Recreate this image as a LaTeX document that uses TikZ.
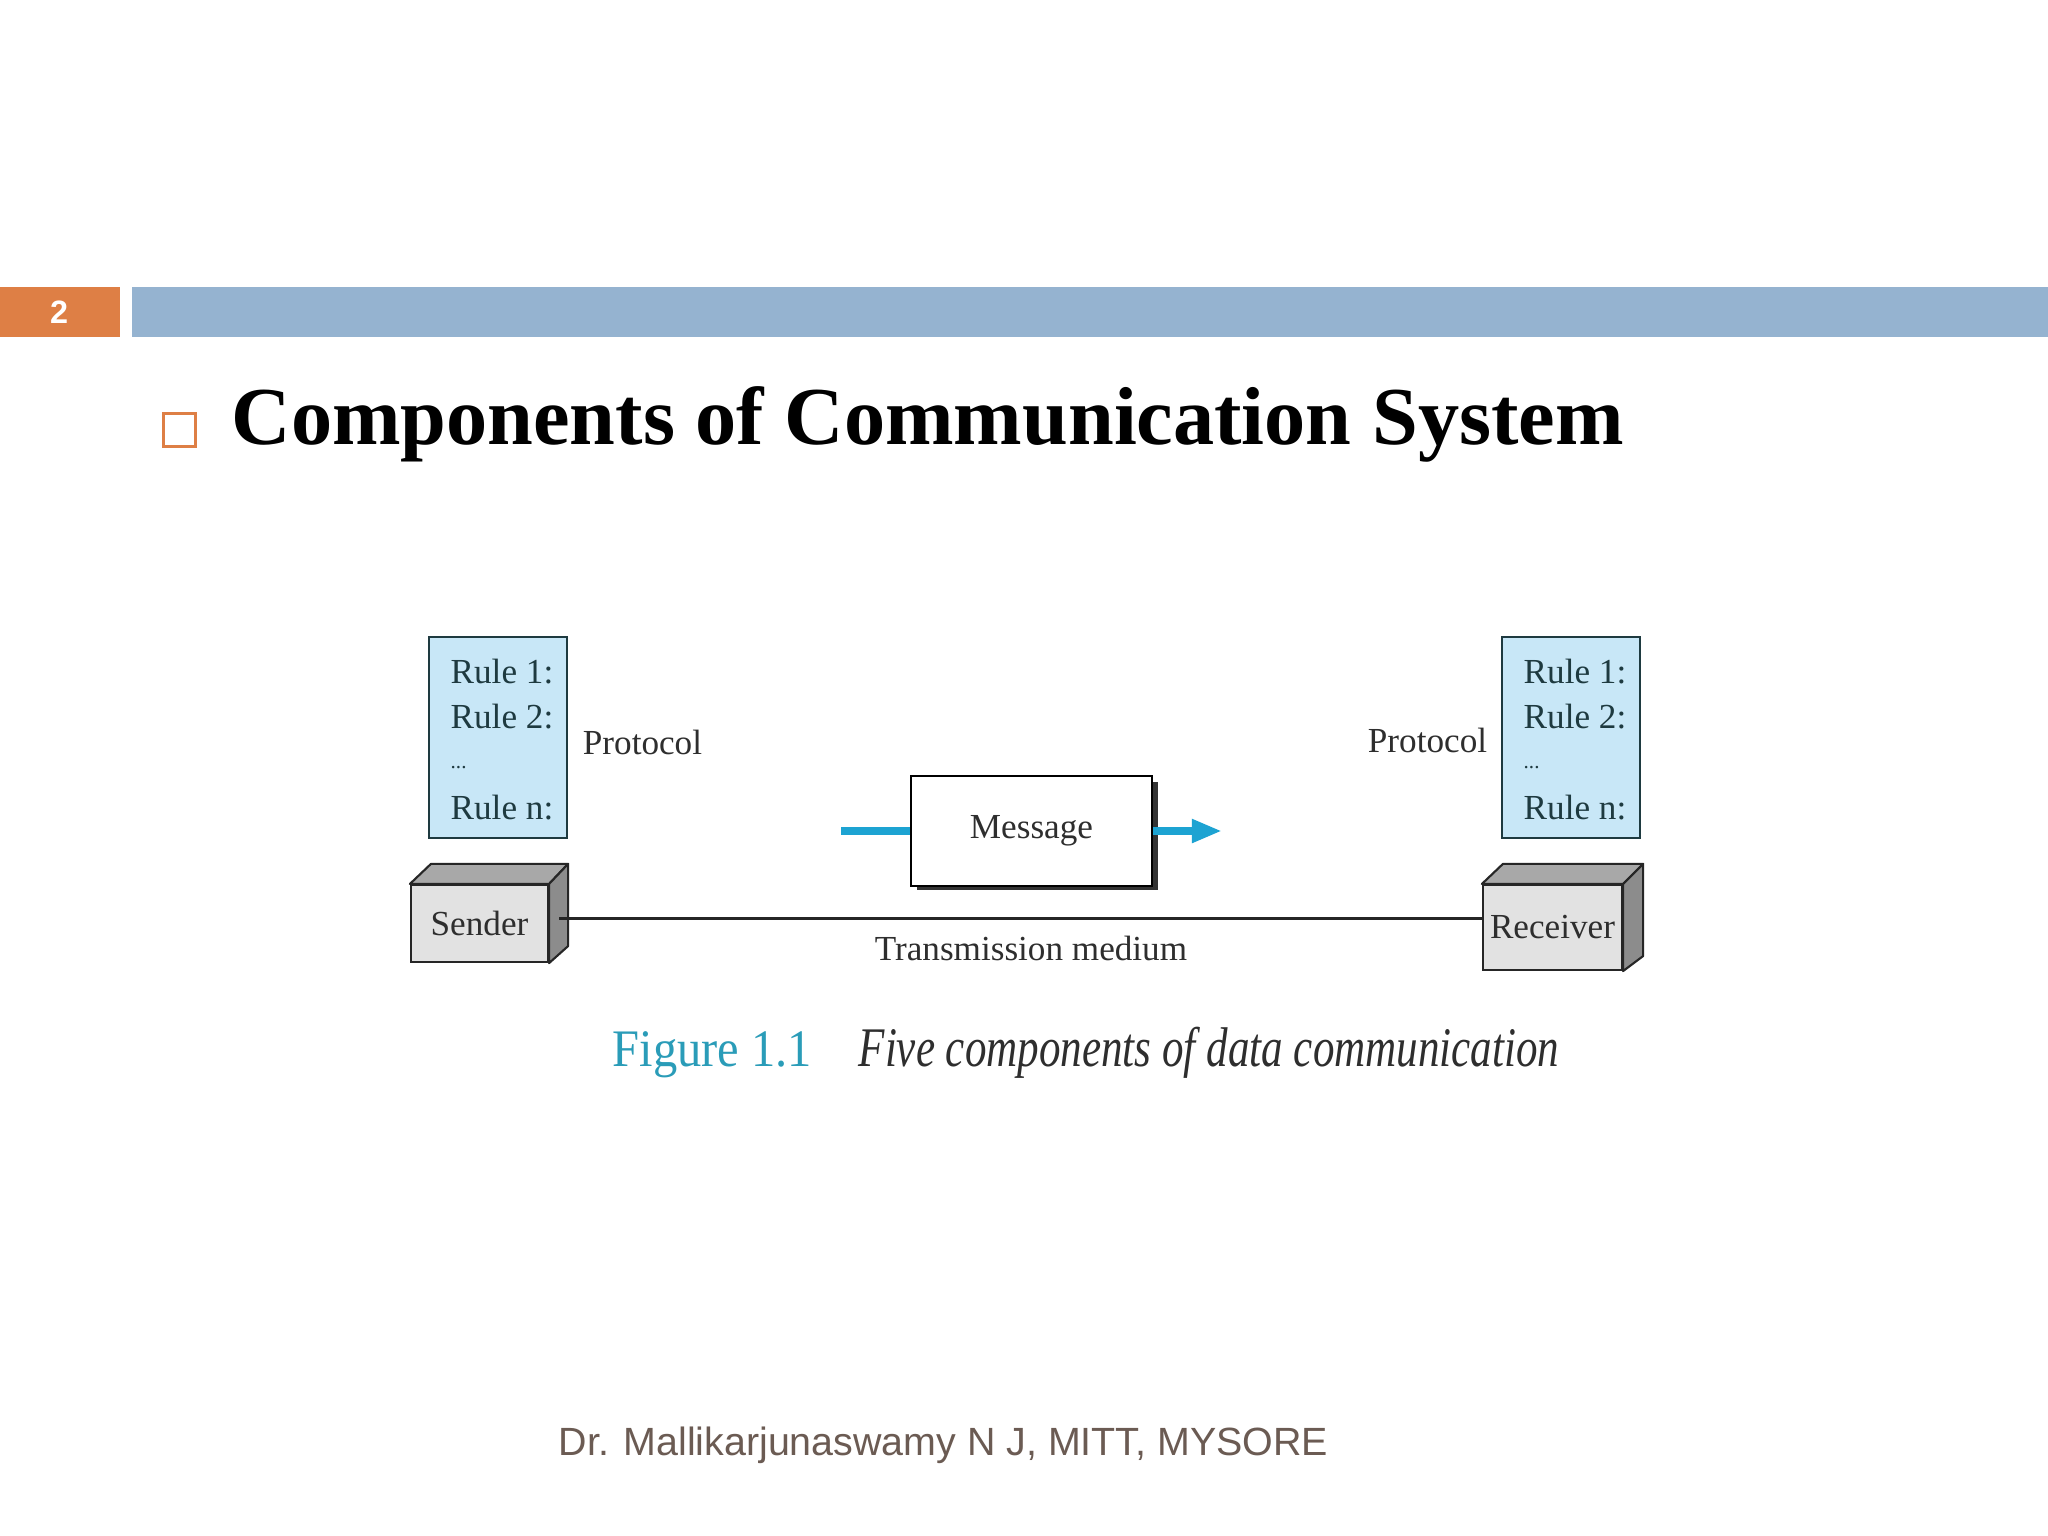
\documentclass[tikz,border=0pt]{standalone}
\usepackage{fontspec}
\setmainfont{Liberation Serif}
\newfontfamily\arialf{Liberation Sans}
\usetikzlibrary{arrows.meta}
\definecolor{barblue}{HTML}{95B3D0}
\definecolor{barorange}{HTML}{DE7F45}
\definecolor{protofill}{HTML}{C8E7F7}
\definecolor{protoedge}{HTML}{1E3A40}
\definecolor{msgblue}{HTML}{1DA3D2}
\definecolor{figteal}{HTML}{2A9CB8}
\definecolor{footgray}{HTML}{6B5B53}
\definecolor{txtgray}{HTML}{2E2E2E}
\definecolor{boxfront}{HTML}{E2E2E2}
\definecolor{boxtop}{HTML}{A8A8A8}
\definecolor{boxside}{HTML}{8C8C8C}
\begin{document}
\begin{tikzpicture}[x=0.01cm,y=-0.01cm,
  dtext/.style={font=\fontsize{10}{12}\selectfont, text=txtgray, inner sep=0pt},
  ruletext/.style={dtext, text=protoedge, anchor=west},
  protobox/.style={draw=protoedge, line width=0.8pt, fill=protofill, minimum width=1.38cm, minimum height=2.01cm, inner sep=0pt},
  devfront/.style={draw=black!85, line width=0.6pt, fill=boxfront, inner sep=0pt, font=\fontsize{10}{12}\selectfont, text=txtgray},
  devtop/.style={draw=black!85, line width=0.6pt, fill=boxtop, line join=round},
  devside/.style={draw=black!85, line width=0.6pt, fill=boxside, line join=round},
  msgbox/.style={draw=black, line width=0.6pt, fill=white, minimum width=2.41cm, minimum height=1.10cm, inner sep=0pt, font=\fontsize{10}{12}\selectfont, text=txtgray},
  msgarrow/.style={draw=msgblue, line width=2.2pt},
  medium/.style={draw=black!85, line width=0.6pt}
]
\useasboundingbox[fill=white] (0,0) rectangle (2048,1536);

% header bars
\fill[barorange] (0,287) rectangle (120,337);
\fill[barblue] (132,287) rectangle (2048,337);
\node[font=\arialf\bfseries\fontsize{9.2}{11}\selectfont, text=white, inner sep=0pt] (num) at (59,312) {2};

% title
\draw[barorange, line width=0.85pt] (163.5,413.5) rectangle (195.5,446.5);
\node[anchor=base west, inner sep=0pt, font=\bfseries\fontsize{23.4}{28}\selectfont] (title) at (231,444) {Components of Communication System};

% left protocol
\node[protobox] (lp) at (498,737.5) {};
\node[ruletext] (lr1) at (450,672) {Rule 1:};
\node[ruletext] (lr2) at (450,717) {Rule 2:};
\node[ruletext, font=\fontsize{6}{7}\selectfont] (lr3) at (450,768) {...};
\node[ruletext] (lrn) at (450,808) {Rule n:};
\node[dtext] (lprot) at (642.5,742) {Protocol};

% right protocol
\node[protobox] (rp) at (1571,737.5) {};
\node[ruletext] (rr1) at (1523,672) {Rule 1:};
\node[ruletext] (rr2) at (1523,717) {Rule 2:};
\node[ruletext, font=\fontsize{6}{7}\selectfont] (rr3) at (1523,768) {...};
\node[ruletext] (rrn) at (1523,808) {Rule n:};
\node[dtext] (rprot) at (1427.5,740) {Protocol};

% sender
\node[devfront, minimum width=1.37cm, minimum height=0.77cm] (s) at (479.5,923.5) {Sender};
\draw[devtop] (s.north west) -- ++(21,-20) -- ([shift={(19,-20)}]s.north east) -- (s.north east) -- cycle;
\draw[devside] (s.north east) -- ++(19,-20) -- ([shift={(19,-17)}]s.south east) -- (s.south east) -- cycle;

% receiver
\node[devfront, minimum width=1.39cm, minimum height=0.85cm] (r) at (1552.5,927.5) {Receiver};
\draw[devtop] (r.north west) -- ++(21,-20) -- ([shift={(20,-20)}]r.north east) -- (r.north east) -- cycle;
\draw[devside] (r.north east) -- ++(20,-20) -- ([shift={(20,-15)}]r.south east) -- (r.south east) -- cycle;

% transmission medium
\draw[medium] ([shift={(10,-5)}]s.east) -- (r.west |- 0,918.5);
\node[dtext] (tm) at (1031,948) {Transmission medium};

% message
\fill[black!80] (917,782) rectangle (1158,890);
\node[msgbox] (m) at (1031.5,831) {Message};
\coordinate (ain) at (841,831);
\coordinate (aout) at (1222,831);
\draw[msgarrow] (ain) -- (m.west);
\draw[msgarrow, -{Triangle[length=0.3cm, width=0.22cm]}] (m.east) -- (aout);

% caption
\node[anchor=base west, inner sep=0pt, text=figteal, font=\fontsize{15}{18}\selectfont] (figl) at (612,1066) {\scalebox{0.92}[1]{Figure 1.1}};
\node[anchor=base west, inner sep=0pt, text=txtgray, font=\itshape\fontsize{15.9}{19}\selectfont] (figc) at (858,1066) {\scalebox{0.77}[1]{Five components of data communication}};

% footer
\node[anchor=base west, inner sep=0pt, text=footgray, font=\arialf\fontsize{11.2}{13}\selectfont] (foot) at (558,1455) {Dr. Mallikarjunaswamy N J, MITT, MYSORE};
\end{tikzpicture}
\end{document}
